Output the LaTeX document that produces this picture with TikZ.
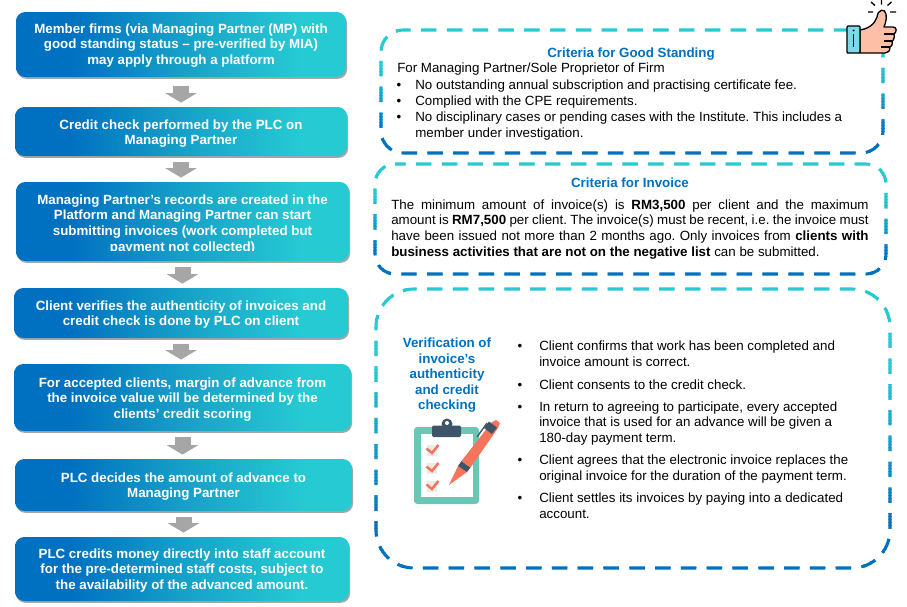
\documentclass[tikz,border=0pt]{standalone}
\usepackage{fontspec}
\setmainfont{Liberation Sans}
\frenchspacing
\usetikzlibrary{shadows,arrows.meta,calc}
\definecolor{bluA}{HTML}{0070C0}
\definecolor{cyaA}{HTML}{26CAD3}
\definecolor{midA}{HTML}{16A0C8}
\definecolor{greyA}{HTML}{A6A6A6}
\definecolor{boardc}{HTML}{6CC6B6}
\definecolor{darkc}{HTML}{3F5468}
\definecolor{penc}{HTML}{F4745C}
\definecolor{handc}{HTML}{FDBFA5}
\definecolor{cuffc}{HTML}{7FD8E8}
\pgfdeclarehorizontalshading{boxgrad}{100bp}{color(0bp)=(bluA); color(33bp)=(bluA); color(50bp)=(midA); color(68bp)=(cyaA); color(100bp)=(cyaA)}
\tikzset{
  flowbox/.style={shading=boxgrad,rounded corners=7pt,inner sep=0pt,
    drop shadow={shadow xshift=0.8pt,shadow yshift=-1.4pt,fill=black,opacity=.35}},
  flowtext/.style={inner sep=0pt,text=white,align=center,font=\bfseries\fontsize{10}{11.8}\selectfont},
  blockarrow/.style={draw=greyA,line width=12pt,shorten <=4.5pt,shorten >=3.2pt,
    -{Triangle[width=23pt,length=7pt]}},
  arrowshadow/.style={blockarrow,draw=black!28,yshift=-0.9pt},
  bodyline/.style={anchor=base west,inner sep=0pt,font=\fontsize{10}{11}\selectfont,text=black},
  dotmark/.style={anchor=base,inner sep=0pt,font=\fontsize{10}{11}\selectfont,text=black},
  headline/.style={anchor=base,inner sep=0pt,font=\bfseries\fontsize{10}{11}\selectfont,text=bluA},
}
% dashed rounded frame whose colour runs from cyan (top) to blue (bottom)
\newcommand{\gradframe}[6]{% x1 y1 x2 y2 radius phase(pt)
  \pgfmathtruncatemacro{\nstrips}{(#4-#2+8)/3}
  \foreach \i in {0,...,\nstrips}{
    \pgfmathsetmacro{\ya}{#2-4+3*\i}
    \pgfmathsetmacro{\tt}{min(1,max(0,((\ya-#2)/(#4-#2)-0.28)/0.55))*100}
    \colorlet{framec}{bluA!\tt!cyaA}
    \begin{scope}
      \clip (#1-6,\ya) rectangle (#3+6,\ya+3.4);
      \draw[framec,line width=2.3pt,dash pattern=on 11.6pt off 7.75pt,dash phase=#6pt,rounded corners=#5*0.75pt]
        (#1+#5,#2) -- (#3,#2) -- (#3,#4) -- (#1,#4) -- (#1,#2) -- (#1+#5,#2);
    \end{scope}
  }
}
\newcommand{\jl}[1]{\hbox to 358pt{#1}}
\begin{document}
\begin{tikzpicture}[x=0.75pt,y=-0.75pt]
\useasboundingbox (0,0) rectangle (907,607);
% flow boxes
\node[flowbox,minimum width=247.5pt,minimum height=48.75pt] (b1) at (181,44.5) {};
\node[flowbox,minimum width=249pt,minimum height=36.75pt] (b2) at (181,131.5) {};
\node[flowbox,minimum width=249.75pt,minimum height=59.25pt] (b3) at (182.5,221.5) {};
\node[flowbox,minimum width=250.5pt,minimum height=37.5pt] (b4) at (181,313) {};
\node[flowbox,minimum width=252.75pt,minimum height=50.25pt] (b5) at (182.5,397.5) {};
\node[flowbox,minimum width=252.75pt,minimum height=39pt] (b6) at (183.5,485) {};
\node[flowbox,minimum width=250.5pt,minimum height=48pt] (b7) at (182,569) {};
\node[flowtext] (b1t) at ([yshift=-0.8pt]b1.center)
  {Member firms (via Managing Partner (MP) with\\good standing status – pre-verified by MIA)\\may apply through a platform};
\node[flowtext] (b2t) at ([yshift=-1.5pt]b2.center)
  {Credit check performed by the PLC on\\Managing Partner};
\begin{scope}
  \clip (20,185) rectangle (345,250.5);
  \node[flowtext] (b3t) at ([yshift=-2pt]b3.center)
  {Managing Partner’s records are created in the\\Platform and Managing Partner can start\\submitting invoices (work completed but\\payment not collected)};
\end{scope}
\node[flowtext] (b4t) at ([yshift=-1.1pt]b4.center)
  {Client verifies the authenticity of invoices and\\credit check is done by PLC on client};
\node[flowtext] (b5t) at ([yshift=-1.5pt]b5.center)
  {For accepted clients, margin of advance from\\the invoice value will be determined by the\\clients’ credit scoring};
\node[flowtext] (b6t) at ([yshift=-1.1pt]b6.center)
  {PLC decides the amount of advance to\\Managing Partner};
\node[flowtext] (b7t) at ([yshift=-1.1pt]b7.center)
  {PLC credits money directly into staff account\\for the pre-determined staff costs, subject to\\the availability of the advanced amount.};
% block arrows
\draw[arrowshadow,shorten <=6.7pt] (b1.south) -- (b1.south |- b2.north);
\draw[blockarrow,shorten <=6.7pt] (b1.south) -- (b1.south |- b2.north);
\foreach \a/\b in {b2/b3,b3/b4,b4/b5,b5/b6,b6/b7}{
  \draw[arrowshadow] (\a.south) -- (\a.south |- \b.north);
  \draw[blockarrow] (\a.south) -- (\a.south |- \b.north);
}
% frames
\gradframe{381}{30}{883}{153}{22}{5.85}
\gradframe{375}{164}{886}{274}{20}{3.6}
\gradframe{376}{289}{890}{568}{38}{9.6}
% good standing
\node[headline] (h1) at (631,57) {Criteria for Good Standing};
\node[bodyline] (g0) at (397,72) {For Managing Partner/Sole Proprietor of Firm};
\node[dotmark] (gd1) at (399,89) {•};
\node[bodyline] (g1) at (415,89) {No outstanding annual subscription and practising certificate fee.};
\node[dotmark] (gd2) at (399,105) {•};
\node[bodyline] (g2) at (415,105) {Complied with the CPE requirements.};
\node[dotmark] (gd3) at (399,121) {•};
\node[bodyline] (g3) at (415,121) {No disciplinary cases or pending cases with the Institute. This includes a};
\node[bodyline] (g4) at (415,137) {member under investigation.};
% invoice
\node[headline] (h2) at (630,187) {Criteria for Invoice};
\node[bodyline] (i1) at (391,209) {\jl{The minimum amount of invoice(s) is \textbf{RM3,500} per client and the maximum}};
\node[bodyline] (i2) at (391,224) {\jl{amount is \textbf{RM7,500} per client. The invoice(s) must be recent, i.e. the invoice must}};
\node[bodyline] (i3) at (391,240) {\jl{have been issued not more than 2 months ago. Only invoices from \textbf{clients with}}};
\node[bodyline] (i4) at (391,256) {\textbf{business activities that are not on the negative list} can be submitted.};
% verification
\node[headline] (v1) at (447,347) {Verification of};
\node[headline] (v2) at (447,363) {invoice’s};
\node[headline] (v3) at (447,378) {authenticity};
\node[headline] (v4) at (447,394) {and credit};
\node[headline] (v5) at (447,409) {checking};
\node[dotmark] (vd1) at (520,350) {•};
\node[bodyline] (c1) at (539,350) {Client confirms that work has been completed and};
\node[bodyline] (c2) at (539,366) {invoice amount is correct.};
\node[dotmark] (vd2) at (520,389) {•};
\node[bodyline] (c3) at (539,389) {Client consents to the credit check.};
\node[dotmark] (vd3) at (520,411) {•};
\node[bodyline] (c4) at (539,411) {In return to agreeing to participate, every accepted};
\node[bodyline] (c5) at (539,426) {invoice that is used for an advance will be given a};
\node[bodyline] (c6) at (539,442) {180-day payment term.};
\node[dotmark] (vd4) at (520,464) {•};
\node[bodyline] (c7) at (539,464) {Client agrees that the electronic invoice replaces the};
\node[bodyline] (c8) at (539,480) {original invoice for the duration of the payment term.};
\node[dotmark] (vd5) at (520,502) {•};
\node[bodyline] (c9) at (539,502) {Client settles its invoices by paying into a dedicated};
\node[bodyline] (c10) at (539,518) {account.};
% clipboard icon
\fill[boardc,rounded corners=2.5pt] (414,427) rectangle (479,504);
\fill[white] (421,434) rectangle (473,497);
\fill[darkc] (447,424) circle[radius=5.5];
\fill[darkc,rounded corners=1pt] (432,425.5) rectangle (461,437);
\fill[white] (447,423) circle[radius=2];
\foreach \dy in {0,18,36}{
  \fill[black!8] (427,445+\dy) rectangle (437,456+\dy);
  \draw[penc,line width=1.9pt] (426.5,448.5+\dy) -- (432,453+\dy) -- (438.5,445+\dy);
}
% pen
\draw[darkc,line width=1pt] (477,437) -- (487,423);
\fill[penc] (449,485) -- (458,466) -- (467,472) -- cycle;
\fill[darkc] (461.5,461) -- (470.5,467.5) -- (467,472) -- (458,466) -- cycle;
\fill[penc] (461.5,461) -- (470.5,467.5) -- (498,428) -- (500,423) -- (496,420) -- (492,422) -- cycle;
\fill[darkc] (484,428) -- (492,434) -- (497,427.5) -- (489,421.5) -- cycle;
% thumbs-up icon
\draw[black,line width=1pt,fill=handc,line join=round]
  (860,30) .. controls (868,29) and (875,24) .. (877,17)
  .. controls (878,9) and (885,8) .. (886,14)
  .. controls (887,20) and (885,24) .. (884,27)
  -- (893,27) .. controls (897,27) and (897,32) .. (894,34)
  .. controls (895,38) and (893,41) .. (892,41)
  .. controls (893,45) and (891,47) .. (890,47)
  .. controls (890,51) and (888,53) .. (885,53)
  -- (860,53) -- cycle;
\draw[black,line width=1pt] (884,34) -- (894,34) (884,41) -- (892,41) (881,47) -- (890,47);
\draw[black,line width=1pt,fill=cuffc,rounded corners=0.7pt] (847,26) rectangle (860,53);
\draw[black,line width=1.3pt] (853.5,34) -- (853.5,47);
\fill[black] (853.5,30.5) circle[radius=1];
\draw[black,line width=1pt]
  (881.5,0) -- (881.5,4.5) (871,2) -- (875,5.5) (891.5,2) -- (887.5,5.5)
  (868,12) -- (873,12) (890,12) -- (896,12);
\end{tikzpicture}
\end{document}
